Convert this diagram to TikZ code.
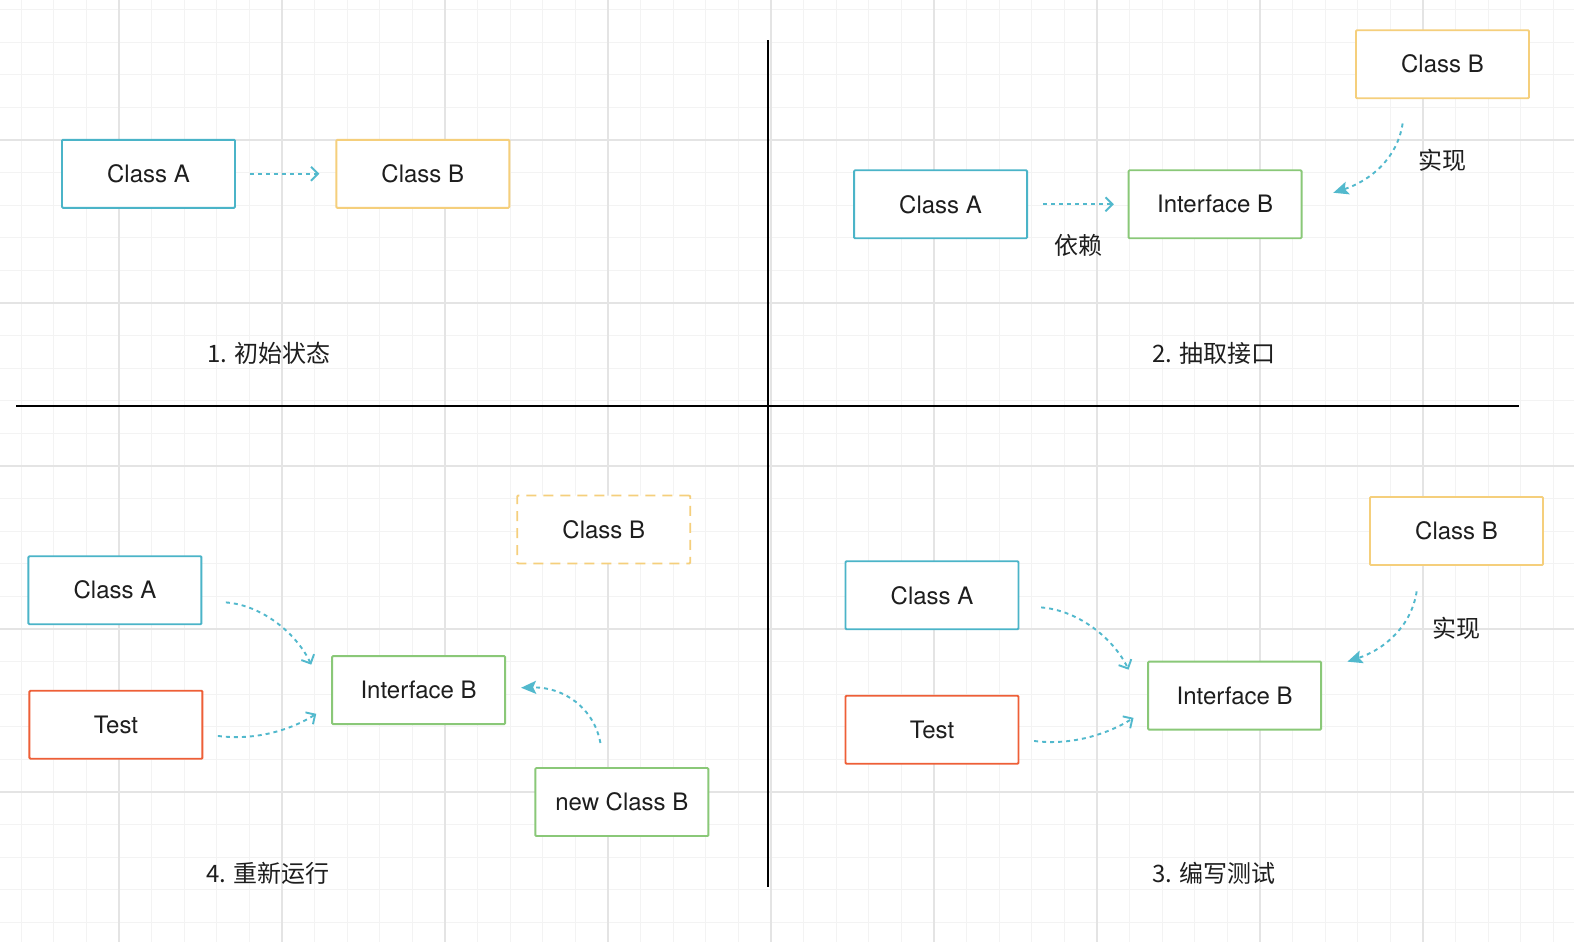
\documentclass[tikz,border=0pt]{standalone}
\usepackage{fontspec}
\setmainfont{TeX Gyre Heros}
\newfontfamily\cjk{Noto Sans CJK SC}
\usetikzlibrary{arrows.meta}
\definecolor{cblue}{HTML}{4BB4C8}
\definecolor{cyellow}{HTML}{F5CF7C}
\definecolor{cgreen}{HTML}{8AC878}
\definecolor{cred}{HTML}{EE5F37}
\definecolor{carrow}{HTML}{52B9CD}
\definecolor{gmajor}{HTML}{E4E4E4}
\definecolor{gminor}{HTML}{F3F3F3}
\definecolor{ink}{HTML}{1E1E1E}
\tikzset{
  box/.style={draw, line width=1.9, minimum width=173, minimum height=68, inner sep=0,
    fill=white, rounded corners=1, text=ink, font=\fontsize{24}{28}\selectfont},
  bluebox/.style={box, draw=cblue},
  yellowbox/.style={box, draw=cyellow},
  greenbox/.style={box, draw=cgreen},
  redbox/.style={box, draw=cred},
  dashbox/.style={box, draw=cyellow, dash pattern=on 10pt off 7pt},
  dep/.style={draw=carrow, line width=1.9, dash pattern=on 4pt off 4pt,
    -{Straight Barb[length=7pt,width=14pt,line width=1.9pt]}},
  impl/.style={draw=carrow, line width=1.9, dash pattern=on 4pt off 4pt,
    -{Stealth[length=15pt,width=13pt,inset=3pt]}},
  caption/.style={text=ink, font=\cjk\fontsize{24}{28}\selectfont},
  note/.style={text=ink, font=\cjk\fontsize{24}{28}\selectfont},
  divider/.style={draw=black, line width=1.9},
  minorgrid/.style={draw=gminor, line width=1},
  majorgrid/.style={draw=gmajor, line width=1.4},
}
\begin{document}
\begin{tikzpicture}[x=1pt,y=-1pt]
\useasboundingbox (0,0) rectangle (1574,942);
\fill[white] (0,0) rectangle (1574,942);
% grid
\foreach \k in {-4,...,45} {
  \pgfmathsetmacro{\gx}{119+32.6*\k}
  \draw[minorgrid] (\gx,0) -- (\gx,942);
}
\foreach \k in {-5,...,25} {
  \pgfmathsetmacro{\gy}{140+32.6*\k}
  \draw[minorgrid] (0,\gy) -- (1574,\gy);
}
\foreach \k in {-1,...,9} {
  \pgfmathsetmacro{\gx}{119+163*\k}
  \draw[majorgrid] (\gx,0) -- (\gx,942);
}
\foreach \k in {-1,...,5} {
  \pgfmathsetmacro{\gy}{140+163*\k}
  \draw[majorgrid] (0,\gy) -- (1574,\gy);
}

% ---------- panel 1 ----------
\node[bluebox] (p1a) at (148.5,173.8) {Class A};
\node[yellowbox] (p1b) at (422.8,173.8) {Class B};
\draw[dep] ([xshift=14pt]p1a.east) -- ([xshift=-16pt]p1b.west);

\begin{scope}[scale=1.0038]
% dividers
\coordinate (vt) at (765,40);
\coordinate (vb) at (765,883);
\coordinate (hl) at (16,404);
\coordinate (hr) at (1513,404);
\draw[divider] (vt) -- (vb);
\draw[divider] (hl) -- (hr);

\node[caption] (cap1) at (268,352) {1. 初始状态};

% ---------- panel 2 ----------
\node[bluebox] (p2a) at (937,203.5) {Class A};
\node[greenbox] (p2i) at (1210.5,203.5) {Interface B};
\node[yellowbox] (p2b) at (1437,64) {Class B};
\draw[dep] ([xshift=15pt]p2a.east) -- ([xshift=-14pt]p2i.west);
\node[note] (dep2) at (1074,244) {依赖};
\coordinate (p2s) at (1397,123);
\coordinate (p2e) at (1328,192);
\draw[impl] (p2s) .. controls (1392,158) and (1365,180) .. (p2e);
\node[note] (impl2) at (1437,160) {实现};
\node[caption] (cap2) at (1209,352) {2. 抽取接口};

% ---------- panel 4 ----------
\node[dashbox] (p4b) at (601.5,527.5) {Class B};
\node[bluebox] (p4a) at (114.5,588) {Class A};
\node[redbox] (p4t) at (115.5,722) {Test};
\node[greenbox] (p4i) at (417,687.5) {Interface B};
\node[greenbox] (p4n) at (619.5,799) {new Class B};
\coordinate (p4as) at (225,600);
\coordinate (p4ae) at (310,662);
\draw[dep] (p4as) .. controls (262,603) and (296,632) .. (p4ae);
\coordinate (p4ts) at (217,733);
\coordinate (p4te) at (315,711);
\draw[dep] (p4ts) .. controls (255,738) and (290,727) .. (p4te);
\coordinate (p4ns) at (598,740);
\coordinate (p4ne) at (519,685);
\draw[impl] (p4ns) .. controls (592,706) and (562,684) .. (p4ne);
\node[caption] (cap4) at (267,870) {4. 重新运行};

% ---------- panel 3 ----------
\node[bluebox] (p3a) at (928.5,593) {Class A};
\node[redbox] (p3t) at (928.5,727) {Test};
\node[greenbox] (p3i) at (1230,693) {Interface B};
\node[yellowbox] (p3b) at (1451,529) {Class B};
\coordinate (p3as) at (1037,605);
\coordinate (p3ae) at (1124,667);
\draw[dep] (p3as) .. controls (1075,608) and (1110,637) .. (p3ae);
\coordinate (p3ts) at (1030,738);
\coordinate (p3te) at (1129,715);
\draw[dep] (p3ts) .. controls (1068,743) and (1104,731) .. (p3te);
\coordinate (p3bs) at (1411,589);
\coordinate (p3be) at (1342,659);
\draw[impl] (p3bs) .. controls (1406,624) and (1379,647) .. (p3be);
\node[note] (impl3) at (1451,626) {实现};
\node[caption] (cap3) at (1209,870) {3. 编写测试};
\end{scope}
\end{tikzpicture}
\end{document}
